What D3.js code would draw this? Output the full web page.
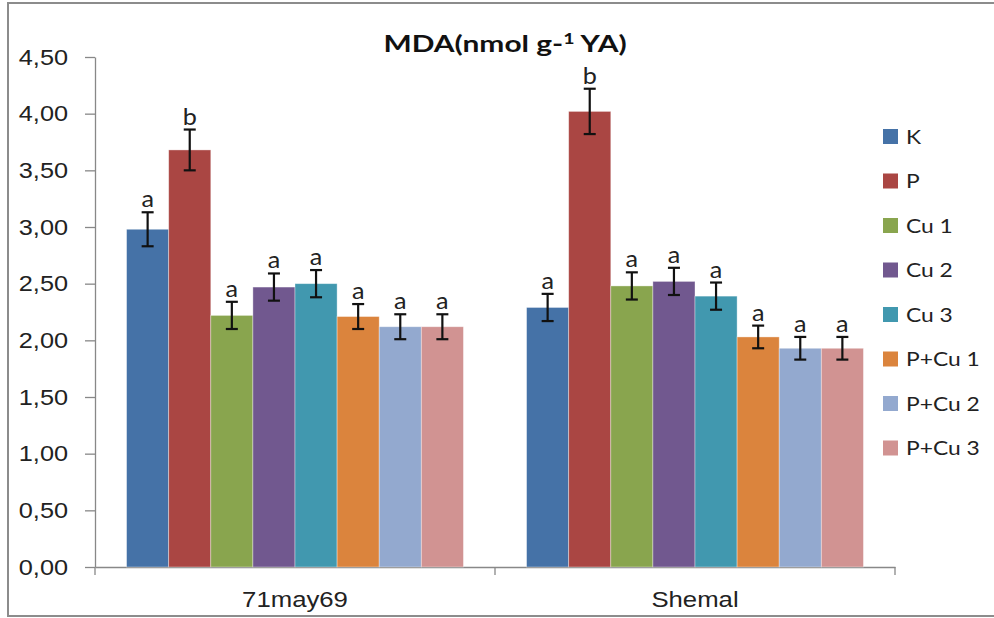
<!DOCTYPE html>
<html>
<head>
<meta charset="utf-8">
<script src="https://cdn.jsdelivr.net/npm/d3@7"></script>
<style>
  html, body { margin: 0; padding: 0; background: #fff; }
  svg { display: block; font-family: Lato, "Open Sans", sans-serif; }
</style>
</head>
<body>
<svg id="chart" width="994" height="618"></svg>
<script>
// Groups (cultivars) and treatments
const groups = ["71may69", "Shemal"];
const treatments = ["K", "P", "Cu 1", "Cu 2", "Cu 3", "P+Cu 1", "P+Cu 2", "P+Cu 3"];
const colors = ["#4572A7", "#AA4643", "#89A54E", "#71588F", "#4198AF", "#DB843D", "#93A9CF", "#D19392"];

// MDA means per group (order follows treatments)
const means71may69 = [2.98, 3.68, 2.22, 2.47, 2.50, 2.21, 2.12, 2.12];
const meansShemal  = [2.29, 4.02, 2.48, 2.52, 2.39, 2.03, 1.93, 1.93];
// Error bar half-widths
const err71may69 = [0.15, 0.18, 0.12, 0.12, 0.12, 0.11, 0.11, 0.11];
const errShemal  = [0.12, 0.20, 0.12, 0.12, 0.12, 0.10, 0.10, 0.10];
// Significance letters
const sig71may69 = ["a", "b", "a", "a", "a", "a", "a", "a"];
const sigShemal  = ["a", "b", "a", "a", "a", "a", "a", "a"];

const yTicks = [0, 0.5, 1, 1.5, 2, 2.5, 3, 3.5, 4, 4.5];

const means = [means71may69, meansShemal];
const errs = [err71may69, errShemal];
const sigs = [sig71may69, sigShemal];

const rows = [];
groups.forEach((g, gi) => treatments.forEach((t, ti) => rows.push({
  group: g, treatment: t, ti, value: means[gi][ti], err: errs[gi][ti], sig: sigs[gi][ti]
})));

const svg = d3.select("#chart");
const plot = { left: 95, right: 895, top: 57, bottom: 567 };
const axisColor = "#888";
const textColor = "#222";

// Outer chart border
svg.append("rect")
  .attr("x", 8).attr("y", 3).attr("width", 1000).attr("height", 613)
  .attr("fill", "none").attr("stroke", "#8c8c8c").attr("stroke-width", 2);

const y = d3.scaleLinear().domain([0, 4.5]).range([plot.bottom, plot.top]);
const x0 = d3.scaleBand().domain(groups).range([plot.left, plot.right]).padding(0);
// Each cluster: 8 bars plus a 150% bar-width gap split on both sides
const bw = x0.bandwidth() / (treatments.length + 1.5);
const x1 = d3.scaleBand().domain(treatments)
  .range([bw * 0.75, bw * 0.75 + bw * treatments.length]).padding(0);

// Y axis
const ySx = 1.15;
const yAxis = d3.axisLeft(y).tickValues(yTicks).tickSize(10).tickSizeOuter(0)
  .tickFormat(d => d3.format(".2f")(d).replace(".", ","));
const gy = svg.append("g").attr("transform", `translate(${plot.left},0)`).call(yAxis);
gy.select(".domain").attr("stroke", axisColor).attr("stroke-width", 1.3);
gy.selectAll(".tick line").attr("stroke", axisColor).attr("stroke-width", 1.3);
gy.selectAll(".tick text")
  .attr("x", -27 / ySx).attr("transform", `scale(${ySx},1)`)
  .attr("font-size", 22).attr("fill", textColor);

// X axis
const xSx = 1.17;
const xAxis = d3.axisBottom(x0).tickSize(0).tickSizeOuter(0);
const gx = svg.append("g").attr("transform", `translate(0,${plot.bottom})`).call(xAxis);
gx.select(".domain").attr("stroke", axisColor).attr("stroke-width", 1.3);
gx.selectAll(".tick text").attr("dy", 0).attr("y", 40)
  .attr("transform", `scale(${xSx},1)`)
  .attr("font-size", 22).attr("fill", textColor);
// Category boundary tick marks
const bounds = [plot.left, x0("Shemal"), plot.right];
svg.append("g").selectAll("line").data(bounds).join("line")
  .attr("x1", d => d).attr("x2", d => d)
  .attr("y1", plot.bottom).attr("y2", plot.bottom + 8)
  .attr("stroke", axisColor).attr("stroke-width", 1.3);

// Bars
svg.append("g").selectAll("rect").data(rows).join("rect")
  .attr("x", d => x0(d.group) + x1(d.treatment))
  .attr("width", x1.bandwidth())
  .attr("y", d => y(d.value))
  .attr("height", d => y(0) - y(d.value))
  .attr("fill", d => colors[d.ti])
  .attr("stroke", "#fff").attr("stroke-opacity", 0.45).attr("stroke-width", 0.8);

// Error bars
const eb = svg.append("g").attr("stroke", "#111").attr("stroke-width", 2.2);
const cx = d => x0(d.group) + x1(d.treatment) + x1.bandwidth() / 2;
rows.forEach(d => {
  const c = cx(d), t = y(d.value + d.err), b = y(d.value - d.err);
  eb.append("line").attr("x1", c).attr("x2", c).attr("y1", t).attr("y2", b);
  eb.append("line").attr("x1", c - 6).attr("x2", c + 6).attr("y1", t).attr("y2", t);
  eb.append("line").attr("x1", c - 6).attr("x2", c + 6).attr("y1", b).attr("y2", b);
});

// Significance letters
svg.append("g").selectAll("text").data(rows).join("text")
  .attr("transform", d => `translate(${cx(d)},${y(d.value + d.err) - 5}) scale(1.05,1)`)
  .attr("text-anchor", "middle")
  .attr("font-size", 24).attr("fill", textColor)
  .text(d => d.sig);

// Title
const title = svg.append("text")
  .attr("transform", "translate(505,52) scale(1.3,1)")
  .attr("text-anchor", "middle").attr("font-size", 23).attr("font-weight", "bold").attr("fill", "#111");
title.append("tspan").text("MDA(nmol g-");
title.append("tspan").attr("font-size", 15).attr("dy", -8).text("1");
title.append("tspan").attr("dy", 8).text(" YA)");

// Legend
const legend = svg.append("g").attr("transform", "translate(883,129)");
const li = legend.selectAll("g").data(treatments).join("g")
  .attr("transform", (d, i) => `translate(0,${i * 44.5})`);
li.append("rect").attr("width", 15).attr("height", 15)
  .attr("fill", (d, i) => colors[i]);
li.append("text").attr("transform", "translate(23,14.5) scale(1.2,1)")
  .attr("font-size", 19).attr("fill", textColor).text(d => d);
</script>
</body>
</html>
